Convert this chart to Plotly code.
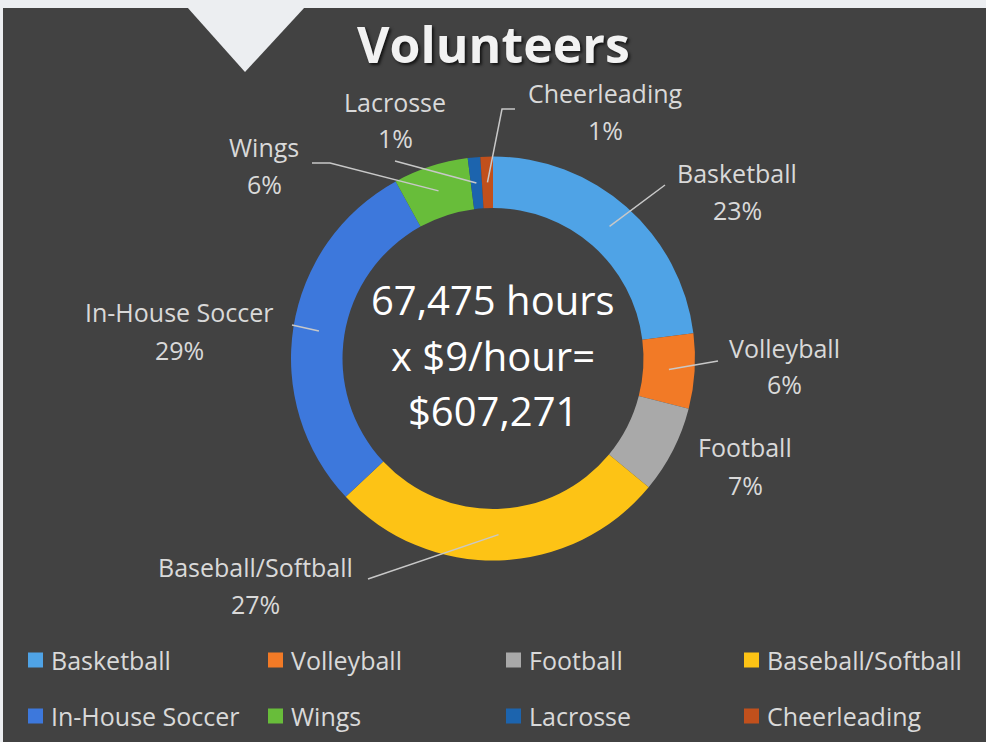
import math
import plotly.graph_objects as go

W, H = 986, 742

# ---- data ----
labels = ["Basketball", "Volleyball", "Football", "Baseball/Softball",
          "In-House Soccer", "Wings", "Lacrosse", "Cheerleading"]
values = [23, 6, 7, 27, 29, 6, 1, 1]
colors = ["#4fa3e6", "#f27a26", "#a9a9a9", "#fdc315",
          "#3d78dc", "#68bd3a", "#1c64ae", "#c1501c"]
title_text = "Volunteers"
center_lines = ["67,475 hours", "x $9/hour=", "$607,271"]

# ---- layout (pixel positions) ----
cx, cy, R, hole = 493, 358.5, 202, 0.745
label_pos = [(737, 173, 210), (784, 348, 384), (745, 447, 485), (255, 567, 604),
             (179, 312, 350), (264, 147, 184), (395, 102, 138), (605, 93, 130)]
leader_ends = [[(665, 185)], [(718, 361)], [], [(368, 579)],
               [(292, 325)], [(330, 163), (312, 163)], [(395, 161)],
               [(502, 109), (515, 109)]]
legend_cols = [28, 268, 506, 744]
legend_rows = [660, 716]
center_y = [300, 355, 410]
label_font = 25

def px(x):
    return x / W

def py(y):
    return 1 - y / H

fig = go.Figure()
fig.add_trace(go.Pie(
    labels=labels, values=values, hole=hole, sort=False,
    direction="clockwise", rotation=0,
    marker=dict(colors=colors, line=dict(width=0)),
    textinfo="none", hoverinfo="label+percent", showlegend=False,
    domain=dict(x=[px(cx - R), px(cx + R)], y=[py(cy + R), py(cy - R)]),
))

shapes = []
# background panel and notch
shapes.append(dict(type="rect", xref="paper", yref="paper", x0=px(3), x1=1,
                   y0=0, y1=py(8), fillcolor="#424242", line=dict(width=0), layer="below"))
shapes.append(dict(type="path", xref="paper", yref="paper",
                   path=f"M{px(187)},{py(7)} L{px(245)},{py(72)} L{px(305)},{py(7)} Z",
                   fillcolor="#eceef1", line=dict(width=0), layer="below"))

annotations = []
total = sum(values)
rmid = R * (1 + hole) / 2
cum = 0
for i, (lab, v) in enumerate(zip(labels, values)):
    mid = (cum + v / 2) / total
    cum += v
    th = 2 * math.pi * mid
    tx, ty = cx + rmid * math.sin(th), cy - rmid * math.cos(th)
    if leader_ends[i]:
        pts = [(tx, ty)] + leader_ends[i]
        path = "M" + " L".join(f"{px(a)},{py(b)}" for a, b in pts)
        shapes.append(dict(type="path", xref="paper", yref="paper", path=path,
                           line=dict(color="#c8c8c8", width=1.5), layer="above"))
    lx, ly1, ly2 = label_pos[i]
    annotations.append(dict(x=px(lx), y=py(ly1), xref="paper", yref="paper",
                            text=lab, showarrow=False, xanchor="center", yanchor="middle",
                            font=dict(family="Open Sans", size=label_font, color="#d9d9d9")))
    annotations.append(dict(x=px(lx), y=py(ly2), xref="paper", yref="paper",
                            text=f"{v / total:.0%}", showarrow=False, xanchor="center",
                            yanchor="middle",
                            font=dict(family="Open Sans", size=label_font, color="#d9d9d9")))
    # legend entry
    col, row = i % 4, i // 4
    sx, sy = legend_cols[col], legend_rows[row]
    shapes.append(dict(type="rect", xref="paper", yref="paper",
                       x0=px(sx), x1=px(sx + 15), y0=py(sy + 7.5), y1=py(sy - 7.5),
                       fillcolor=colors[i], line=dict(width=0)))
    annotations.append(dict(x=px(sx + 21), y=py(sy), xref="paper", yref="paper",
                            text=lab, showarrow=False, xanchor="left", yanchor="middle",
                            font=dict(family="Open Sans", size=label_font, color="#d9d9d9")))

annotations.append(dict(x=px(493), y=py(44), xref="paper", yref="paper",
                        text=f"<b>{title_text}</b>", showarrow=False,
                        xanchor="center", yanchor="middle",
                        font=dict(family="Open Sans", size=50, color="#f2f2f2",
                                  shadow="2px 2px 3px rgba(0,0,0,0.7)")))
for t, y in zip(center_lines, center_y):
    annotations.append(dict(x=px(cx), y=py(y), xref="paper", yref="paper",
                            text=t, showarrow=False, xanchor="center", yanchor="middle",
                            font=dict(family="Open Sans", size=40, color="#ffffff")))

fig.update_layout(width=W, height=H, margin=dict(l=0, r=0, t=0, b=0),
                  paper_bgcolor="#eceef1", plot_bgcolor="#eceef1",
                  shapes=shapes, annotations=annotations, showlegend=False)

fig.write_html("out.html", config={"displayModeBar": False},
               post_script="document.body.style.margin='0';document.body.style.overflow='hidden';")
